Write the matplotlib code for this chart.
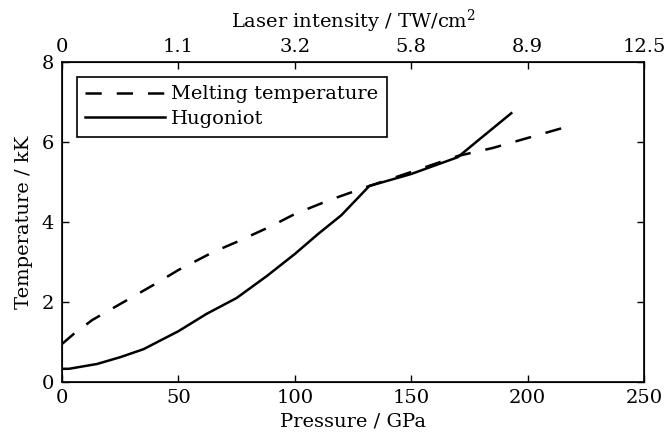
import matplotlib
matplotlib.use("Agg")
import matplotlib.pyplot as plt

# data
melt_p = [0, 5, 13, 25, 40, 50, 65, 75, 90, 100, 115, 132, 150, 170, 185, 200, 218]
melt_T = [0.95, 1.2, 1.55, 1.95, 2.45, 2.8, 3.25, 3.5, 3.9, 4.2, 4.55, 4.9, 5.25, 5.65, 5.85, 6.1, 6.4]

hug_p = [0, 3, 15, 25, 35, 50, 62, 75, 88, 100, 110, 120, 132, 150, 170, 180, 193]
hug_T = [0.33, 0.33, 0.45, 0.62, 0.82, 1.27, 1.7, 2.1, 2.65, 3.2, 3.7, 4.17, 4.9, 5.2, 5.62, 6.1, 6.72]

top_labels = ["0", "1.1", "3.2", "5.8", "8.9", "12.5"]

plt.rcParams['font.family'] = 'DejaVu Serif'
plt.rcParams['mathtext.fontset'] = 'dejavuserif'
plt.rcParams['font.size'] = 14

fig = plt.figure(figsize=(6.71, 4.41), dpi=100)
ax = fig.add_axes([62/671, 59/441, 582/671, 320/441])

ax.plot(melt_p, melt_T, 'k--', lw=1.8, dashes=(6.5, 6), label='Melting temperature')
ax.plot(hug_p, hug_T, 'k-', lw=1.8, label='Hugoniot')

ax.set_xlim(0, 250)
ax.set_ylim(0, 8)
ax.set_xticks([0, 50, 100, 150, 200, 250])
ax.set_yticks([0, 2, 4, 6, 8])
ax.tick_params(direction='in', top=False, right=True, length=5, width=1)
ax.tick_params(axis='x', pad=5)
ax.tick_params(axis='y', pad=6)
ax.set_xlabel('Pressure / GPa', labelpad=4)
ax.set_ylabel('Temperature / kK', labelpad=6)
for s in ax.spines.values():
    s.set_linewidth(1.2)

ax2 = ax.twiny()
ax2.set_xlim(ax.get_xlim())
ax2.set_xticks([0, 50, 100, 150, 200, 250])
ax2.set_xticklabels(top_labels)
ax2.tick_params(direction='in', length=5, width=1, pad=4)
ax2.set_xlabel('Laser intensity / TW/cm$^2$', labelpad=8)

leg = ax.legend(loc='upper left', fancybox=False, edgecolor='k', framealpha=1,
                handlelength=4.1, handletextpad=0.3, borderaxespad=0.75,
                borderpad=0.45, labelspacing=0.35)
leg.get_frame().set_linewidth(1.2)

fig.savefig('out.png', dpi=100)
